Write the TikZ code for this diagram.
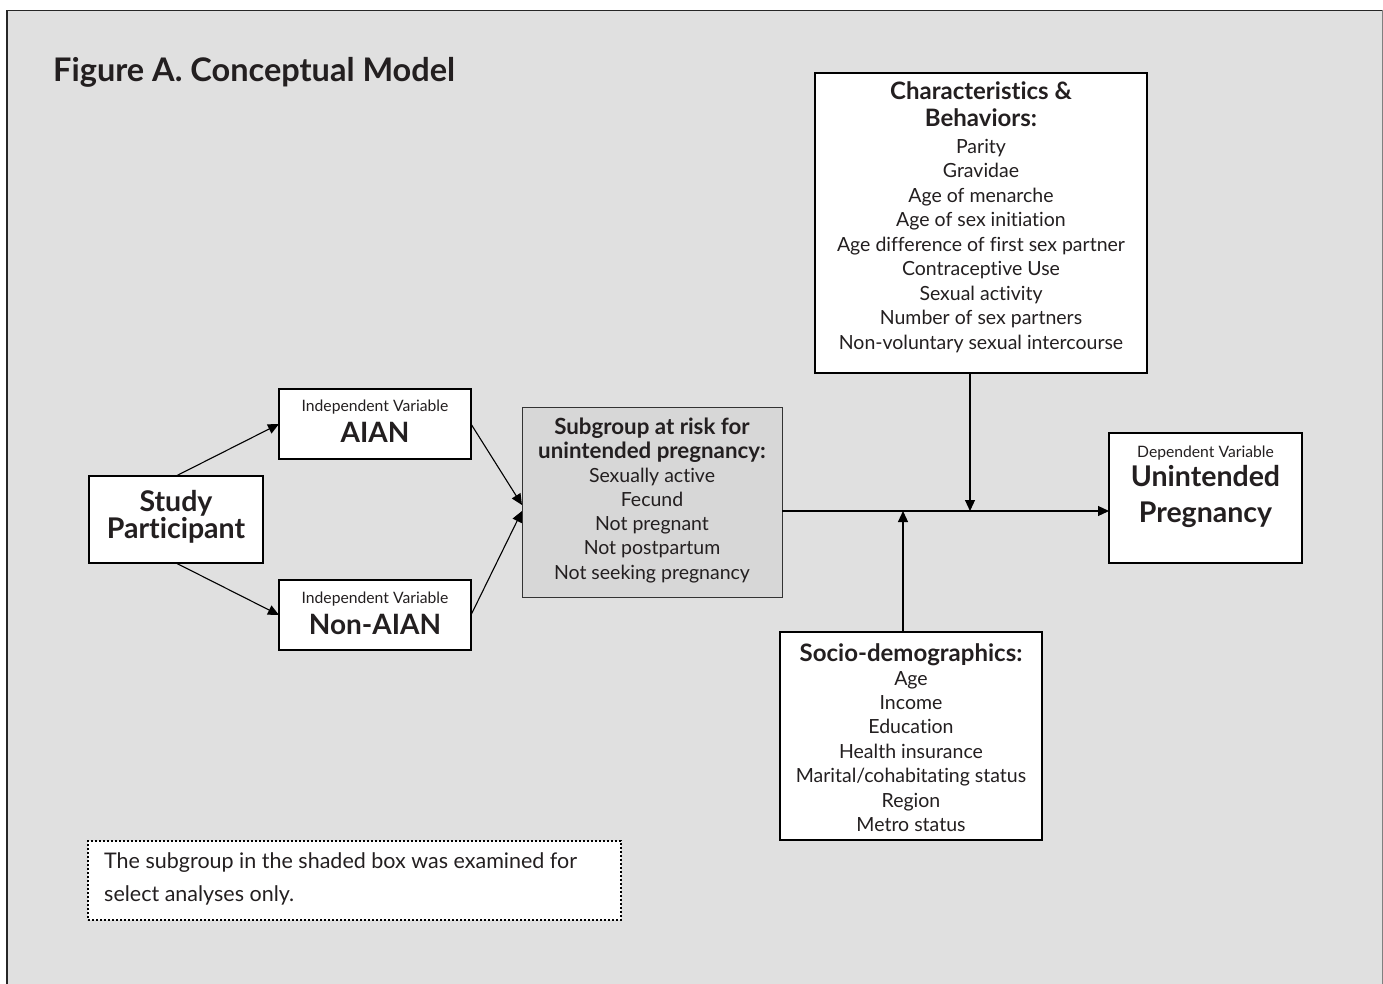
\documentclass[tikz,border=0pt]{standalone}
\usepackage{fontspec}
\setmainfont[Ligatures=NoCommon]{Lato}
\usetikzlibrary{arrows.meta,calc}
\definecolor{bg}{HTML}{E0E0E0}
\definecolor{subfill}{HTML}{D7D7D7}
\definecolor{ink}{HTML}{231F20}
\begin{document}
\begin{tikzpicture}[x=1pt,y=-1pt,
  box/.style={draw=black, line width=2.6pt, fill=white, inner sep=0pt, outer sep=0pt},
  thinbox/.style={draw=black!80, line width=1pt, fill=subfill, inner sep=0pt, outer sep=0pt},
  notebox/.style={draw=black, line width=1.6pt, dash pattern=on 1.6pt off 2.4pt, fill=white, inner sep=0pt, outer sep=0pt},
  arr/.style={line width=1.1pt, -{Triangle[length=11pt,width=10pt]}},
  txt/.style={text=ink, inner sep=0pt, anchor=base},
  reg/.style={txt, font=\fontsize{19.5}{22}\selectfont},
  hdr/.style={txt, font=\bfseries\fontsize{24}{27}\selectfont},
  subhdr/.style={txt, font=\bfseries\fontsize{22.3}{26}\selectfont},
  small/.style={txt, font=\fontsize{15.7}{18}\selectfont},
  big/.style={txt, font=\bfseries\fontsize{28}{32}\selectfont},
  huge/.style={txt, font=\bfseries\fontsize{28.5}{32}\selectfont}]
\useasboundingbox (0,0) rectangle (1383,984);
\fill[white] (0,0) rectangle (1383,984);
\fill[bg] (6,10) rectangle (1383,984);
\draw[line width=1.5pt, black!85] (6.75,984) -- (6.75,10.75) -- (1382,10.75);
\draw[line width=1pt, gray] (1382.5,10) -- (1382.5,984);

% title
\node[txt, anchor=base west, font=\bfseries\fontsize{32.5}{36}\selectfont] (title) at (53,82) {Figure A. Conceptual Model};

% boxes
\node[box, minimum width=174pt, minimum height=87pt] (study) at (176,519.5) {};
\node[box, minimum width=192pt, minimum height=70pt] (aian) at (375,424) {};
\node[box, minimum width=192pt, minimum height=70pt] (nonaian) at (375,615) {};
\node[thinbox, minimum width=260pt, minimum height=190pt] (sub) at (652,502) {};
\node[box, minimum width=332pt, minimum height=300pt] (char) at (981,223) {};
\node[box, minimum width=193pt, minimum height=130pt] (unint) at (1205.5,498) {};
\node[box, minimum width=262pt, minimum height=208pt] (socio) at (911,736) {};
\node[notebox, minimum width=533pt, minimum height=79pt] (note) at (354.5,880.5) {};

% texts
\node[huge] (study1) at (176,511) {Study};
\node[huge] (study2) at (176,538) {Participant};
\node[small] (aian1) at (375,411) {Independent Variable};
\node[big] (aian2) at (375,442) {AIAN};
\node[small] (nonaian1) at (375,603) {Independent Variable};
\node[big] (nonaian2) at (375,634) {Non-AIAN};

\node[subhdr] (sub1) at (652,434) {Subgroup at risk for};
\node[subhdr] (sub2) at (652,458) {unintended pregnancy:};
\foreach \t [count=\i] in {Sexually active, Fecund, Not pregnant, Not postpartum, Not seeking pregnancy}
  \node[reg] (subl\i) at (652,{482+24.3*(\i-1)}) {\t};

\node[hdr] (char1) at (981,100) {Characteristics \&};
\node[hdr] (char2) at (981,127) {Behaviors:};
\foreach \t [count=\i] in {Parity, Gravidae, Age of menarche, Age of sex initiation, Age difference of first sex partner, Contraceptive Use, Sexual activity, Number of sex partners, Non-voluntary sexual intercourse}
  \node[reg] (charl\i) at (981,{153.3+24.5*(\i-1)}) {\t};

\node[small] (unint1) at (1205.5,457) {Dependent Variable};
\node[huge] (unint2) at (1205.5,486) {Unintended};
\node[huge] (unint3) at (1205.5,522) {Pregnancy};

\node[hdr] (socio1) at (911,661) {Socio-demographics:};
\foreach \t [count=\i] in {Age, Income, Education, Health insurance, Marital/cohabitating status, Region, Metro status}
  \node[reg] (sociol\i) at (911,{685+24.4*(\i-1)}) {\t};

\node[txt, anchor=base west, font=\fontsize{21.5}{24}\selectfont] (note1) at (104,868) {The subgroup in the shaded box was examined for};
\node[txt, anchor=base west, font=\fontsize{21.5}{24}\selectfont] (note2) at (104,901) {select analyses only.};

% connectors
\draw[arr] (study.north) -- (aian.west);
\draw[arr] (study.south) -- (nonaian.west);
\draw[arr] (aian.east) -- ($(sub.west)+(0,3)$);
\draw[arr] (nonaian.east) -- ($(sub.west)+(0,9)$);
\coordinate (j) at (782,511);
\draw[arr] (sub.east |- j) -- (unint.west |- j);
\coordinate (dn) at (970,511);
\draw[arr] (char.south -| dn) -- (dn);
\coordinate (up) at (903,511);
\draw[arr] (socio.north -| up) -- (up);
\end{tikzpicture}
\end{document}
